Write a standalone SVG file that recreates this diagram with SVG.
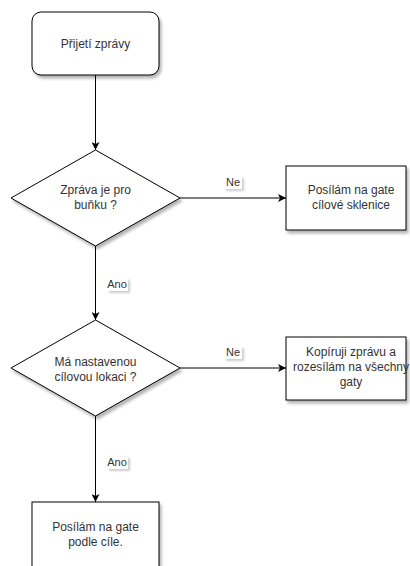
<svg xmlns="http://www.w3.org/2000/svg" width="410" height="566" viewBox="0 0 410 566">
<defs>
<filter id="sh" x="-10%" y="-10%" width="130%" height="140%">
<feGaussianBlur in="SourceAlpha" stdDeviation="1.5"/>
<feOffset dx="2" dy="3" result="b"/>
<feComponentTransfer><feFuncA type="linear" slope="0.3"/></feComponentTransfer>
<feMerge><feMergeNode/><feMergeNode in="SourceGraphic"/></feMerge>
</filter>
<filter id="lsh" x="-20%" y="-20%" width="150%" height="160%">
<feGaussianBlur in="SourceAlpha" stdDeviation="1"/>
<feOffset dx="2" dy="2" result="b"/>
<feComponentTransfer><feFuncA type="linear" slope="0.2"/></feComponentTransfer>
<feMerge><feMergeNode/><feMergeNode in="SourceGraphic"/></feMerge>
</filter>
<marker id="arr" viewBox="0 0 10 10" refX="10" refY="5" markerWidth="8" markerHeight="8" markerUnits="userSpaceOnUse" orient="auto">
<path d="M0,0 L10,5 L0,10 L2.5,5 Z" fill="#000"/>
</marker>
</defs>
<style>
.shape{fill:#fff;stroke:#000;stroke-width:1;filter:url(#sh)}
.t{font-family:"Liberation Sans",Arial,sans-serif;font-size:12px;fill:#333;text-anchor:middle}
.edge{fill:none;stroke:#000;stroke-width:1;marker-end:url(#arr)}
.lbl{fill:#fff;filter:url(#lsh)}
.lt{font-family:"Liberation Sans",Arial,sans-serif;font-size:11px;fill:#333;text-anchor:middle}
</style>
<rect width="410" height="566" fill="#fff"/>
<g id="connectors">
<path class="edge" d="M95.5,75 L95.5,150"/>
<path class="edge" d="M180,198 L286,198"/>
<path class="edge" d="M95.5,246 L95.5,320"/>
<path class="edge" d="M180,368 L286,368"/>
<path class="edge" d="M95.5,416 L95.5,502"/>
<g id="lbl-ne1"><rect class="lbl" x="224" y="176" width="18" height="13"/><text class="lt" x="233" y="186">Ne</text></g>
<g id="lbl-ano1"><rect class="lbl" x="107" y="278" width="21" height="13"/><text class="lt" x="117" y="288">Ano</text></g>
<g id="lbl-ne2"><rect class="lbl" x="224" y="346" width="18" height="13"/><text class="lt" x="233" y="356">Ne</text></g>
<g id="lbl-ano2"><rect class="lbl" x="107" y="456" width="21" height="13"/><text class="lt" x="117" y="466">Ano</text></g>
</g>
<g id="start">
<rect class="shape" x="32" y="12" width="127" height="63" rx="9" ry="9"/>
<text class="t" x="95.5" y="47.5">Přijetí zprávy</text>
</g>
<g id="dec1">
<path class="shape" d="M95.5,150 L180,198 L95.5,246 L11,198 Z"/>
<text class="t" x="95.5" y="193.5">Zpráva je pro</text>
<text class="t" x="95.5" y="209">buňku ?</text>
</g>
<g id="box1">
<rect class="shape" x="286" y="166" width="120" height="64"/>
<text class="t" x="351" y="193.5">Posílám na gate</text>
<text class="t" x="351" y="209">cílové sklenice</text>
</g>
<g id="dec2">
<path class="shape" d="M95.5,320 L180,368 L95.5,416 L11,368 Z"/>
<text class="t" x="95.5" y="366">Má nastavenou</text>
<text class="t" x="95.5" y="381">cílovou lokaci ?</text>
</g>
<g id="box2">
<rect class="shape" x="286" y="337" width="120" height="63"/>
<text class="t" x="351" y="356">Kopíruji zprávu a</text>
<text class="t" x="351" y="371">rozesílám na všechny</text>
<text class="t" x="351" y="386">gaty</text>
</g>
<g id="end">
<rect class="shape" x="32" y="502" width="127" height="80"/>
<text class="t" x="95.5" y="531">Posílám na gate</text>
<text class="t" x="95.5" y="546">podle cíle.</text>
</g>
</svg>
